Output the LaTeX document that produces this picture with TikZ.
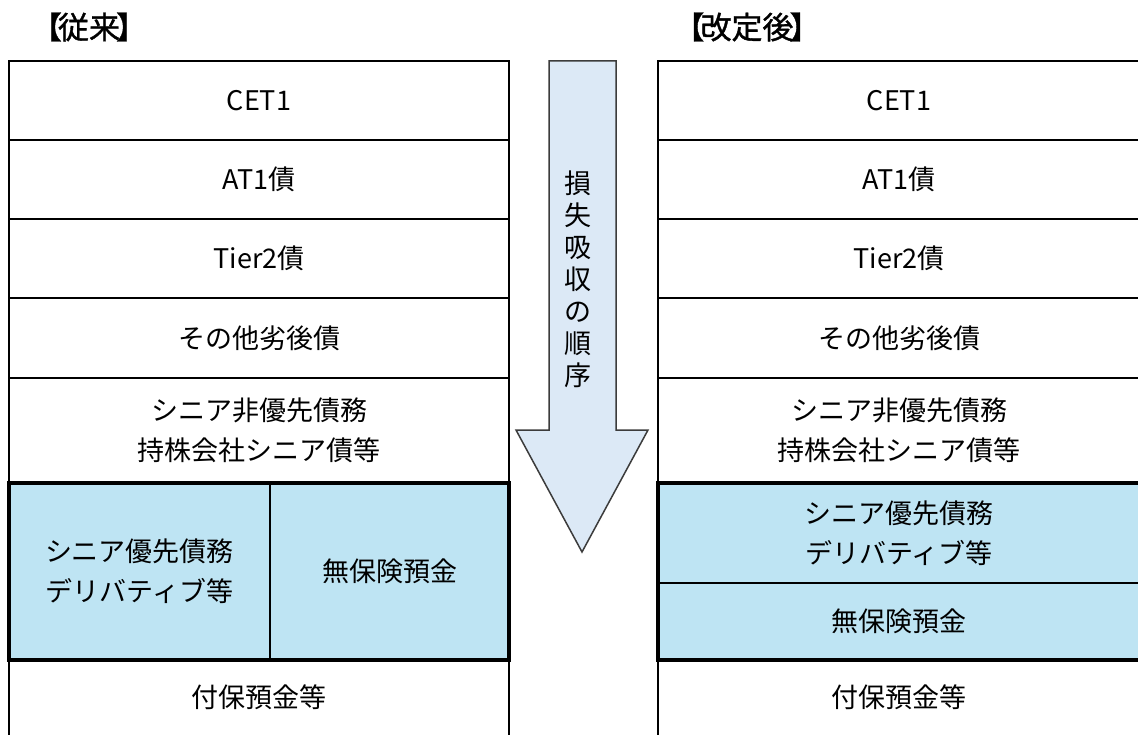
\documentclass[tikz,border=0pt]{standalone}
\usepackage{fontspec}
\setmainfont{Noto Sans CJK JP}
\newfontfamily\ttlfont[FakeBold=1.2]{Noto Sans CJK JP}
\definecolor{cellblue}{RGB}{190,228,243}
\definecolor{arrowblue}{RGB}{220,233,246}
\definecolor{arrowline}{RGB}{60,60,60}
\begin{document}
\begin{tikzpicture}[x=1pt,y=-1pt,
  cell/.style={draw=black, line width=1.5pt, inner sep=0pt, outer sep=0pt, align=center,
    font=\fontsize{27}{40}\selectfont},
  bluecell/.style={cell, fill=cellblue},
  thickframe/.style={draw=black, line width=4pt},
  title/.style={font=\ttlfont\fontsize{31}{34}\selectfont, inner sep=0pt},
  arrowtext/.style={align=center, inner sep=0pt, font=\fontsize{27}{32}\selectfont}]
\useasboundingbox (0,0) rectangle (1138,735);
\fill[white] (0,0) rectangle (1138,735);

% titles
\node[title] (t1) at (89,27) {【\kern-4pt 従来\kern-4pt 】};
\node[title] (t2) at (747,27) {【\kern-4pt 改定後\kern-4pt 】};

% left column
\node[cell, minimum width=500pt, minimum height=79pt] (lcet) at (259,100.5) {CET1};
\node[cell, minimum width=500pt, minimum height=79pt] (lat1) at (259,179.5) {AT1債};
\node[cell, minimum width=500pt, minimum height=79pt] (ltier) at (259,258.5) {Tier2債};
\node[cell, minimum width=500pt, minimum height=80pt] (lsub) at (259,338) {その他劣後債};
\node[cell, minimum width=500pt, minimum height=105pt] (lsnp) at (259,430.5) {シニア非優先債務\\持株会社シニア債等};
\node[bluecell, minimum width=261pt, minimum height=177pt] (lsen) at (139.5,571.5) {シニア優先債務\\デリバティブ等};
\node[bluecell, minimum width=239pt, minimum height=177pt] (lunins) at (389.5,571.5) {無保険預金};
\node[cell, draw=none, minimum width=500pt, minimum height=74pt] (lins) at (259,697) {付保預金等};
\draw[line width=1.5pt] ([yshift=-20pt]lins.south west) -- (lins.north west) -- (lins.north east) -- ([yshift=-20pt]lins.south east);
\draw[thickframe] (lsen.north west) rectangle (lunins.south east);

% right column
\node[cell, minimum width=482pt, minimum height=79pt] (rcet) at (899,100.5) {CET1};
\node[cell, minimum width=482pt, minimum height=79pt] (rat1) at (899,179.5) {AT1債};
\node[cell, minimum width=482pt, minimum height=79pt] (rtier) at (899,258.5) {Tier2債};
\node[cell, minimum width=482pt, minimum height=80pt] (rsub) at (899,338) {その他劣後債};
\node[cell, minimum width=482pt, minimum height=105pt] (rsnp) at (899,430.5) {シニア非優先債務\\持株会社シニア債等};
\node[bluecell, minimum width=482pt, minimum height=100pt] (rsen) at (899,533) {シニア優先債務\\デリバティブ等};
\node[bluecell, minimum width=482pt, minimum height=77pt] (runins) at (899,621.5) {無保険預金};
\node[cell, draw=none, minimum width=482pt, minimum height=74pt] (rins) at (899,697) {付保預金等};
\draw[line width=1.5pt] ([yshift=-20pt]rins.south west) -- (rins.north west) -- (rins.north east);
\draw[thickframe] (rsen.north west) rectangle (runins.south east);

% arrow
\draw[fill=arrowblue, draw=arrowline, line width=1.5pt, line join=miter]
  (549,61) -- (616,61) -- (616,430) -- (648,430) -- (582,552) -- (516,430) -- (549,430) -- cycle;
\node[arrowtext] (arr) at (578,279) {損\\失\\吸\\収\\の\\順\\序};
\end{tikzpicture}
\end{document}
